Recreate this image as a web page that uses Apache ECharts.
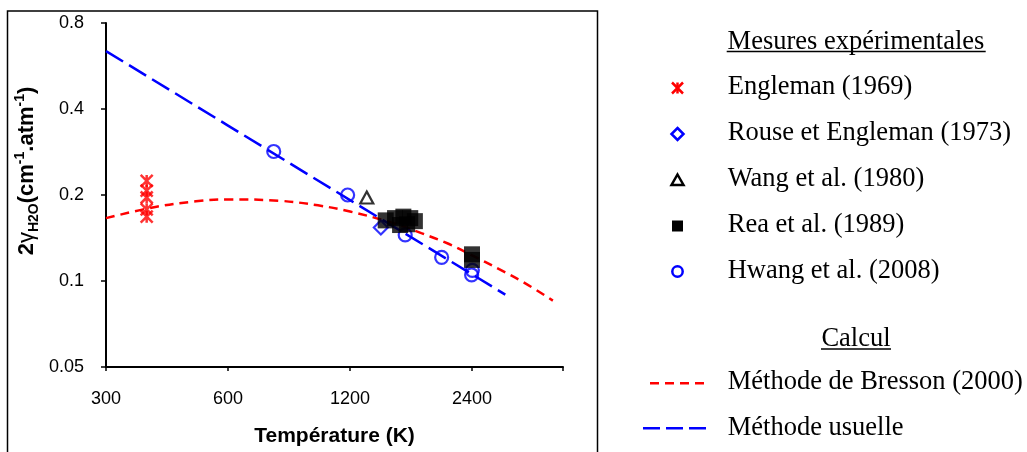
<!DOCTYPE html>
<html><head><meta charset="utf-8">
<script src="https://cdn.jsdelivr.net/npm/echarts@6/dist/echarts.min.js"></script>
<style>html,body{margin:0;padding:0;background:#fff}#c{width:1027px;height:452px}</style>
</head><body><div id="c"></div>
<script>
// ---- tick labels / axis ranges ----
const xTickLabels = [300, 600, 1200, 2400];
const yTickLabels = [0.05, 0.1, 0.2, 0.4, 0.8];
const T_MIN = 300, T_MAX = 4025, Y_MIN = 0.05, Y_MAX = 0.8;

// ---- measurements ----
const englemanT = [378, 378, 378, 378, 378];
const englemanY = [0.224, 0.207, 0.196, 0.178, 0.168];
const rouseT = [1430];
const rouseY = [0.154];
const wangT = [1320];
const wangY = [0.196];
const reaT = [1470, 1550, 1625, 1690, 1735, 1595, 1660, 2400, 2400];
const reaY = [0.163, 0.166, 0.168, 0.166, 0.162, 0.157, 0.158, 0.124, 0.1185];
const hwangT = [778, 1184, 1642, 2020, 2405, 2395];
const hwangY = [0.284, 0.200, 0.145, 0.121, 0.109, 0.105];

// ---- calculations ----
const bressonT = [300, 400, 500, 600, 800, 1000, 1200, 1500, 1800, 2100, 2400, 2800, 3200, 3800];
const bressonY = [0.166, 0.182, 0.190, 0.193, 0.191, 0.184, 0.175, 0.161, 0.147, 0.135, 0.123, 0.110, 0.0994, 0.0854];
const usuelleT = [300, 600, 1200, 2400, 2900];
const usuelleY = [0.638, 0.350, 0.192, 0.1056, 0.0896];

const seriesNames = ['Engleman (1969)', 'Rouse et Engleman (1973)', 'Wang et al. (1980)', 'Rea et al. (1989)', 'Hwang et al. (2008)'];
const calcNames = ['Méthode de Bresson (2000)', 'Méthode usuelle'];

// log2 axes (base-2 logarithmic scale mapped onto value axes)
const lx = t => Math.log2(t / T_MIN);
const ly = v => Math.log2(v / Y_MIN);
const pts = (T, Y) => T.map((t, i) => [lx(t), ly(Y[i])]);

const fmt = labels => v => { const i = Math.round(v); return (Math.abs(v - i) < 1e-6 && labels[i] != null) ? String(labels[i]) : ''; };

const chart = echarts.init(document.getElementById('c'), null, {renderer: 'canvas'});
const SANS = 'Liberation Sans, Arial, sans-serif';
const SERIF = 'Liberation Serif, Times New Roman, serif';

const graphic = [];
// outer frame
graphic.push({type: 'rect', shape: {x: 7.5, y: 11, width: 590, height: 470}, style: {fill: 'none', stroke: '#000', lineWidth: 1.5}, silent: true, z: 0});
// y-axis title
graphic.push({type: 'text', x: 27, y: 171, rotation: Math.PI / 2, style: {
  text: '{m|2}{g|γ}{s|H2O}{m|(cm}{p|-1}{m|.atm}{p|-1}{m|)}',
  align: 'center', verticalAlign: 'middle',
  rich: {
    m: {fontFamily: SANS, fontWeight: 'bold', fontSize: 22, lineHeight: 28, verticalAlign: 'middle', fill: '#000'},
    g: {fontFamily: SANS, fontWeight: 'normal', fontSize: 22, lineHeight: 28, verticalAlign: 'middle', fill: '#000'},
    s: {fontFamily: SANS, fontWeight: 'bold', fontSize: 14, lineHeight: 17, verticalAlign: 'bottom', fill: '#000'},
    p: {fontFamily: SANS, fontWeight: 'bold', fontSize: 14, lineHeight: 17, verticalAlign: 'top', fill: '#000'}
  }
}});
// legend headers
const header = (txt, y, x1, x2, ly2) => {
  graphic.push({type: 'text', x: 856, y: y, style: {text: txt, font: '26.5px ' + SERIF, fill: '#000', align: 'center', verticalAlign: 'middle'}});
  graphic.push({type: 'line', shape: {x1: x1, y1: ly2, x2: x2, y2: ly2}, style: {stroke: '#000', lineWidth: 1.5}});
};
header('Mesures expérimentales', 42, 726.7, 985.7, 51.5);
header('Calcul', 339, 821, 891, 349);
const ltext = (txt, y) => graphic.push({type: 'text', x: 727.7, y: y, style: {text: txt, font: '26.5px ' + SERIF, fill: '#000', align: 'left', verticalAlign: 'middle'}});
const rowY = [87, 133.5, 179.3, 225, 271];
const mx = 677.5;
// legend markers
graphic.push({type: 'group', children: [
  {type: 'line', shape: {x1: mx - 5.5, y1: 88 - 5.5, x2: mx + 5.5, y2: 88 + 5.5}, style: {stroke: '#ff0000', lineWidth: 2.5}},
  {type: 'line', shape: {x1: mx + 5.5, y1: 88 - 5.5, x2: mx - 5.5, y2: 88 + 5.5}, style: {stroke: '#ff0000', lineWidth: 2.5}},
  {type: 'line', shape: {x1: mx, y1: 88 - 5.5, x2: mx, y2: 88 + 5.5}, style: {stroke: '#ff0000', lineWidth: 2.5}}
]});
graphic.push({type: 'polygon', shape: {points: [[mx, 128], [mx + 6, 134], [mx, 140], [mx - 6, 134]]}, style: {fill: 'none', stroke: '#0000ff', lineWidth: 2.5}});
graphic.push({type: 'polygon', shape: {points: [[mx, 174.5], [mx + 6, 185], [mx - 6, 185]]}, style: {fill: 'none', stroke: '#000', lineWidth: 2.5}});
graphic.push({type: 'rect', shape: {x: mx - 5.5, y: 220.5, width: 11, height: 11}, style: {fill: '#000'}});
graphic.push({type: 'circle', shape: {cx: mx, cy: 271.5, r: 5.2}, style: {fill: 'none', stroke: '#0000ff', lineWidth: 2.5}});
seriesNames.forEach((n, i) => ltext(n, rowY[i]));
graphic.push({type: 'line', shape: {x1: 650, y1: 383.3, x2: 707, y2: 383.3}, style: {stroke: '#ff0000', lineWidth: 2.5, lineDash: [9, 6]}});
graphic.push({type: 'line', shape: {x1: 643, y1: 428.3, x2: 706, y2: 428.3}, style: {stroke: '#0000ff', lineWidth: 2.5, lineDash: [17, 6]}});
ltext(calcNames[0], 382);
ltext(calcNames[1], 428);

const option = {
  backgroundColor: '#fff',
  animation: false,
  grid: {left: 106, right: 464, top: 23, bottom: 82, containLabel: false},
  xAxis: {
    type: 'value', min: 0, max: lx(T_MAX), interval: 1,
    name: 'Température (K)', nameLocation: 'middle', nameGap: 59,
    nameTextStyle: {fontFamily: SANS, fontWeight: 'bold', fontSize: 21, color: '#000'},
    axisLine: {show: true, lineStyle: {color: '#000', width: 2}},
    axisTick: {show: true, length: 4, lineStyle: {color: '#000', width: 1.5}},
    axisLabel: {formatter: fmt(xTickLabels), fontFamily: SANS, fontSize: 18, color: '#000', margin: 23, showMaxLabel: true},
    splitLine: {show: false}
  },
  yAxis: {
    type: 'value', min: 0, max: ly(Y_MAX), interval: 1,
    axisLine: {show: true, lineStyle: {color: '#000', width: 2}},
    axisTick: {show: true, length: 5, lineStyle: {color: '#000', width: 1.5}},
    axisLabel: {formatter: fmt(yTickLabels), fontFamily: SANS, fontSize: 18, color: '#000', margin: 22},
    splitLine: {show: false}
  },
  series: [
    {name: calcNames[0], type: 'line', data: pts(bressonT, bressonY), symbol: 'none', smooth: 0.4, z: 1,
     lineStyle: {color: '#ff0000', width: 2.5, type: [9, 6]}},
    {name: calcNames[1], type: 'line', data: pts(usuelleT, usuelleY), symbol: 'none', z: 1,
     lineStyle: {color: '#0000ff', width: 2.5, type: [20, 7]}},
    {name: seriesNames[0], type: 'scatter', data: pts(englemanT, englemanY), z: 3,
     symbol: 'path://M0,0L12,12M12,0L0,12M6,0L6,12', symbolSize: 12,
     itemStyle: {color: '#ff0000', borderColor: '#ff0000', borderWidth: 2.5}},
    {name: seriesNames[1], type: 'scatter', data: pts(rouseT, rouseY), z: 3,
     symbol: 'diamond', symbolSize: 14,
     itemStyle: {color: 'rgba(0,0,0,0)', borderColor: '#0000ff', borderWidth: 2.2}},
    {name: seriesNames[2], type: 'scatter', data: pts(wangT, wangY), z: 3,
     symbol: 'triangle', symbolSize: [13, 12],
     itemStyle: {color: 'rgba(0,0,0,0)', borderColor: '#000', borderWidth: 2.2}},
    {name: seriesNames[4], type: 'scatter', data: pts(hwangT, hwangY), z: 3,
     symbol: 'circle', symbolSize: 13,
     itemStyle: {color: 'rgba(0,0,0,0)', borderColor: '#0000ff', borderWidth: 2.2}},
    {name: seriesNames[3], type: 'scatter', data: pts(reaT, reaY), z: 4,
     symbol: 'rect', symbolSize: 16,
     itemStyle: {color: '#000'}}
  ],
  graphic: graphic
};
chart.setOption(option);
</script>
</body></html>
